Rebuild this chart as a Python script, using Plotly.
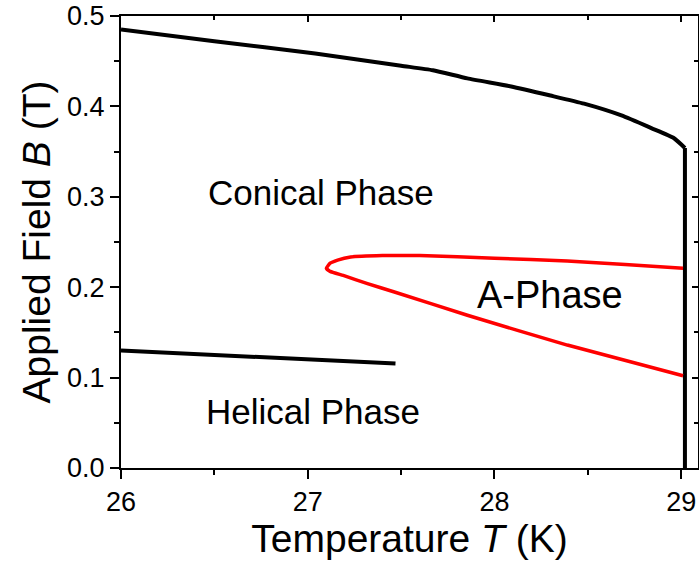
import plotly.graph_objects as go

# Upper critical field boundary (conical -> field-polarized)
upper_T = [26.0, 26.5, 27.04, 27.5, 27.67, 27.855, 28.09, 28.3, 28.48, 28.68, 28.84, 28.96, 29.02]
upper_B = [0.485, 0.472, 0.4585, 0.445, 0.440, 0.431, 0.422, 0.412, 0.403, 0.390, 0.376, 0.365, 0.354]

# Vertical transition line at Tc
tc_T = [29.02, 29.02]
tc_B = [0.354, 0.0]

# Helical -> conical boundary
helical_T = [26.0, 27.47]
helical_B = [0.130, 0.1155]

# A-phase pocket: upper branch from the right, around the tip, lower branch back to the right
aphase_T = [29.01, 28.7, 28.39, 28.0, 27.6, 27.4, 27.23, 27.16, 27.12, 27.10, 27.12, 27.19, 27.32, 27.46, 27.855, 28.39, 29.01]
aphase_B = [0.221, 0.225, 0.229, 0.232, 0.235, 0.235, 0.2334, 0.230, 0.2265, 0.221, 0.2175, 0.213, 0.204, 0.195, 0.169, 0.136, 0.102]

# Phase labels
label_text = ["Conical Phase", "A-Phase", "Helical Phase"]
label_T = [27.07, 28.295, 27.03]
label_B = [0.305, 0.191, 0.0625]

x_range = [26.0, 29.09]
y_range = [0.0, 0.5]

fig = go.Figure()
fig.add_trace(go.Scatter(x=upper_T, y=upper_B, mode="lines",
                         line=dict(color="black", width=4, shape="spline", smoothing=0.5),
                         showlegend=False))
fig.add_trace(go.Scatter(x=tc_T, y=tc_B, mode="lines",
                         line=dict(color="black", width=4), showlegend=False))
fig.add_trace(go.Scatter(x=helical_T, y=helical_B, mode="lines",
                         line=dict(color="black", width=4), showlegend=False))
fig.add_trace(go.Scatter(x=aphase_T, y=aphase_B, mode="lines",
                         line=dict(color="#ff0000", width=3.5, shape="spline", smoothing=0.4),
                         showlegend=False))
# dummy trace to host the mirrored top/right axes
fig.add_trace(go.Scatter(x=[x_range[0]], y=[y_range[0]], xaxis="x2", yaxis="y2",
                         mode="markers", marker=dict(opacity=0), showlegend=False,
                         hoverinfo="skip"))

font_family = "Liberation Sans, Arial"
for txt, tx, by in zip(label_text, label_T, label_B):
    size = 38 if txt == "A-Phase" else 35
    fig.add_annotation(x=tx, y=by, text=txt, showarrow=False,
                       font=dict(size=size, color="black", family=font_family))

tick_font = dict(size=27, color="black", family=font_family)
title_font = dict(size=39, color="black", family=font_family)

fig.update_layout(
    width=699, height=562,
    margin=dict(l=121, r=1, t=16, b=94),
    paper_bgcolor="white", plot_bgcolor="white",
    xaxis=dict(range=x_range, tickvals=[26, 27, 28, 29], ticktext=["26", "27", "28", "29"],
               ticks="outside", ticklen=9, tickwidth=2, tickcolor="black",
               minor=dict(dtick=0.5, tick0=26, ticks="outside", ticklen=5, tickwidth=2, tickcolor="black"),
               showline=True, linecolor="black", linewidth=2, showgrid=False, zeroline=False,
               tickfont=tick_font,
               title=dict(text="Temperature <i>T</i> (K)", font=title_font, standoff=2)),
    yaxis=dict(range=y_range, tickvals=[0, 0.1, 0.2, 0.3, 0.4, 0.5],
               ticktext=["0.0", "0.1", "0.2", "0.3", "0.4", "0.5"],
               ticks="outside", ticklen=9, tickwidth=2, tickcolor="black",
               minor=dict(dtick=0.05, tick0=0, ticks="outside", ticklen=5, tickwidth=2, tickcolor="black"),
               showline=True, linecolor="black", linewidth=2, showgrid=False, zeroline=False,
               tickfont=tick_font,
               title=dict(text="Applied Field <i>B</i> (T)", font=title_font, standoff=4)),
    xaxis2=dict(range=x_range, overlaying="x", side="top", anchor="y2",
                tickvals=[26, 27, 28, 29], ticks="inside", ticklen=6, tickwidth=2, tickcolor="black",
                minor=dict(dtick=0.5, tick0=26, ticks="inside", ticklen=4, tickwidth=2, tickcolor="black"),
                showticklabels=False, showline=True, linecolor="black", linewidth=2,
                showgrid=False, zeroline=False),
    yaxis2=dict(range=y_range, overlaying="y", side="right", anchor="x2",
                tickvals=[0, 0.1, 0.2, 0.3, 0.4, 0.5], ticks="inside", ticklen=6, tickwidth=2,
                tickcolor="black",
                minor=dict(dtick=0.05, tick0=0, ticks="inside", ticklen=4, tickwidth=2, tickcolor="black"),
                showticklabels=False, showline=True, linecolor="black", linewidth=2,
                showgrid=False, zeroline=False),
)

fig.write_html("out.html")
